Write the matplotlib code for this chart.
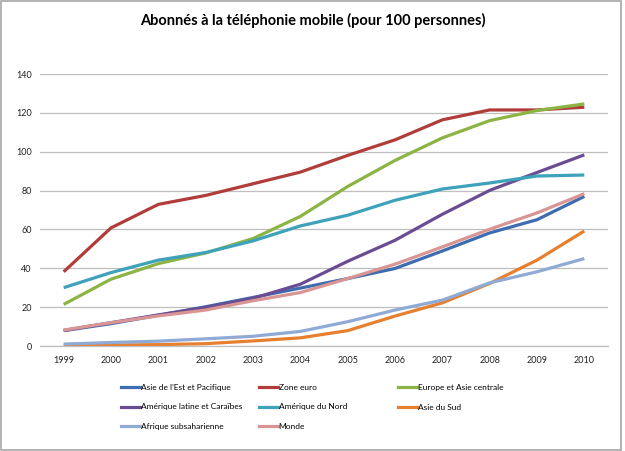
import matplotlib.pyplot as plt
from matplotlib.lines import Line2D
from matplotlib.patches import Rectangle

plt.rcParams['font.family'] = ['Lato', 'DejaVu Sans']

years = ["1999", "2000", "2001", "2002", "2003", "2004",
         "2005", "2006", "2007", "2008", "2009", "2010"]

asie_est = [7.9, 11.5, 15.8, 20.2, 25.0, 29.8, 34.7, 39.9, 48.9, 58.2, 65.0, 77.0]
zone_euro = [38.2, 60.8, 72.9, 77.5, 83.5, 89.5, 98.1, 106.1, 116.4, 121.5, 121.5, 122.9]
europe_asie = [21.4, 34.4, 42.4, 47.9, 55.3, 66.7, 82.1, 95.5, 107.1, 116.0, 121.2, 124.6]
amerique_latine = [8.0, 12.0, 16.0, 19.8, 24.5, 31.8, 43.6, 54.4, 67.8, 80.1, 89.3, 98.4]
amerique_nord = [30.0, 37.8, 44.2, 48.1, 54.1, 61.8, 67.3, 75.0, 80.8, 83.9, 87.5, 88.0]
asie_sud = [0.3, 0.5, 0.7, 1.2, 2.6, 4.2, 7.9, 15.4, 22.2, 32.2, 44.2, 59.2]
afrique = [1.0, 1.8, 2.5, 3.7, 5.0, 7.5, 12.5, 18.5, 23.6, 32.5, 38.2, 45.0]
monde = [8.2, 12.0, 15.5, 18.5, 23.3, 27.5, 34.7, 42.1, 51.0, 60.1, 68.5, 78.4]

names = ["Asie de l\u2019Est et Pacifique", "Zone euro", "Europe et Asie centrale",
         "Am\u00e9rique latine et Cara\u00efbes", "Am\u00e9rique du Nord", "Asie du Sud",
         "Afrique subsaharienne", "Monde"]
series = [asie_est, zone_euro, europe_asie, amerique_latine,
          amerique_nord, asie_sud, afrique, monde]
colors = ["#3D6CB0", "#B13D3B", "#8CB444", "#6A4C93",
          "#3DA2BA", "#E6802F", "#90AAD6", "#D99593"]

fig = plt.figure(figsize=(6.25, 4.51), dpi=100)
ax = fig.add_axes([40 / 625, 1 - 346 / 451, 568 / 625, 272 / 451])

x = range(len(years))
for vals, c in zip(series, colors):
    ax.plot(x, vals, color=c, lw=2.3, solid_capstyle='butt', solid_joinstyle='miter')

ax.set_xlim(-0.5, 11.5)
ax.set_ylim(0, 140)
ax.set_yticks(range(0, 141, 20))
ax.set_xticks(list(x))
ax.set_xticklabels(years)
ax.tick_params(length=0, labelsize=6.5, colors="#222222")
ax.tick_params(axis='y', pad=6)
ax.tick_params(axis='x', pad=7)
ax.grid(axis='y', color="#BFBFBF", lw=0.9)
ax.set_axisbelow(True)
for s in ["top", "right", "left"]:
    ax.spines[s].set_visible(False)
ax.spines["bottom"].set_color("#BFBFBF")
ax.spines["bottom"].set_linewidth(0.9)

fig.text(0.5, 1 - 20 / 451, "Abonn\u00e9s \u00e0 la t\u00e9l\u00e9phonie mobile (pour 100 personnes)",
         ha='center', va='center', fontsize=10.5, fontweight='bold')

# legend: three equal-width columns, filled row by row
col_x = [121, 259, 398]
for col in range(3):
    idx = list(range(col, len(names), 3))
    handles = [Line2D([], [], color=colors[i], lw=2.3) for i in idx]
    fig.legend(handles, [names[i] for i in idx], loc='upper left',
               bbox_to_anchor=(col_x[col] / 625, 1 - 384 / 451),
               frameon=False, fontsize=6.0, handlelength=2.3, handletextpad=0.05,
               labelspacing=1.5, borderpad=0, borderaxespad=0)

fig.patches.append(Rectangle((0.002, 0.003), 0.992, 0.994, transform=fig.transFigure,
                             fill=False, edgecolor="#A6A6A6", lw=1.2))

fig.savefig("out.png", dpi=100)
